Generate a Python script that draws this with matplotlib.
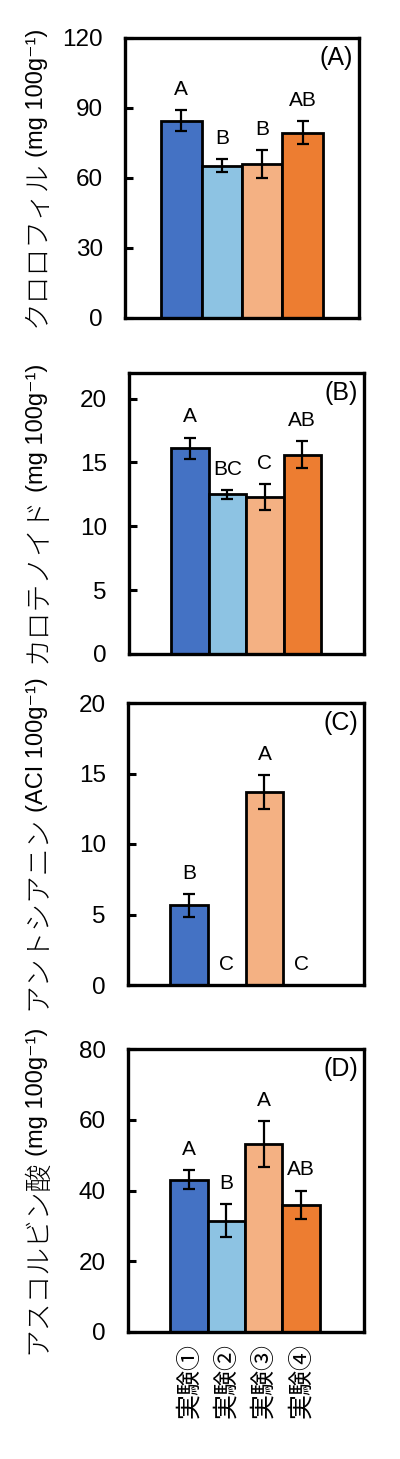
import matplotlib
matplotlib.use('Agg')
import matplotlib.pyplot as plt
import numpy as np

plt.rcParams['font.family'] = ['Liberation Sans', 'Noto Sans CJK JP', 'DejaVu Sans']

# ---------------- data ----------------
categories = ['実験①', '実験②', '実験③', '実験④']
bar_colors = ['#4472C4', '#8DC3E3', '#F4B183', '#ED7D31']

chl_mean = [84.5, 65.3, 66.0, 79.5]
chl_err = [4.5, 2.7, 5.8, 5.0]
chl_letters = ['A', 'B', 'B', 'AB']

car_mean = [16.1, 12.5, 12.3, 15.6]
car_err = [0.85, 0.35, 1.0, 1.05]
car_letters = ['A', 'BC', 'C', 'AB']

ant_mean = [5.65, 0.0, 13.7, 0.0]
ant_err = [0.8, 0.0, 1.2, 0.0]
ant_letters = ['B', 'C', 'A', 'C']

asc_mean = [43.1, 31.5, 53.2, 36.0]
asc_err = [2.7, 4.7, 6.5, 4.0]
asc_letters = ['A', 'B', 'A', 'AB']

ylabel_jp = ['クロロフィル', 'カロテノイド', 'アントシアニン', 'アスコルビン酸']
ylabel_unit = ['(mg 100g⁻¹)', '(mg 100g⁻¹)', '(ACI 100g⁻¹)', '(mg 100g⁻¹)']
panel_tags = ['(A)', '(B)', '(C)', '(D)']
ylims = [(0, 120), (0, 22), (0, 20), (0, 80)]
yticks = [[0, 30, 60, 90, 120], [0, 5, 10, 15, 20], [0, 5, 10, 15, 20], [0, 20, 40, 60, 80]]

means = [chl_mean, car_mean, ant_mean, asc_mean]
errs = [chl_err, car_err, ant_err, asc_err]
letters = [chl_letters, car_letters, ant_letters, asc_letters]

# ---------------- layout (pixels) ----------------
W, H = 400, 1459
boxes = [(125, 359, 38, 318), (129, 364, 373, 654), (128, 364, 703, 985), (128, 364, 1049, 1332)]
xlims = [(-1.39, 4.39), (-1.63, 4.65), (-1.63, 4.65), (-1.63, 4.68)]

fig = plt.figure(figsize=(W / 100, H / 100), dpi=100)
x = np.arange(len(categories))

axes = []
label_texts = []
for i in range(4):
    l, r, t, b = boxes[i]
    ax = fig.add_axes([l / W, 1 - b / H, (r - l) / W, (b - t) / H])
    axes.append(ax)
    m = np.array(means[i])
    e = np.array(errs[i])
    ax.bar(x, m, width=1.0, color=bar_colors, edgecolor='black', linewidth=2.0, zorder=2)
    mask = m > 0
    ax.errorbar(x[mask], m[mask], yerr=e[mask], fmt='none', ecolor='black',
                elinewidth=1.6, capsize=4.5, capthick=1.6, zorder=3)
    for xi, mi, ei, lt in zip(x, m, e, letters[i]):
        ax.annotate(lt, (xi, mi + ei), xytext=(0, 8), textcoords='offset points',
                    ha='center', va='bottom', fontsize=15)
    ax.set_ylim(*ylims[i])
    ax.set_yticks(yticks[i])
    ax.set_xlim(*xlims[i])
    ax.tick_params(axis='y', direction='in', length=6, width=2.2, labelsize=17.5, pad=16)
    for s in ax.spines.values():
        s.set_linewidth(2.4)
    ax.text(0.975, 0.93, panel_tags[i], transform=ax.transAxes, ha='right', va='center', fontsize=18)
    if i == 3:
        ax.set_xticks(x)
        ax.set_xticklabels(categories, rotation=90, fontsize=18, family=['Noto Sans CJK JP'])
        ax.tick_params(axis='x', length=0, pad=8)
    else:
        ax.set_xticks([])
    t1 = fig.text(0, 0, ylabel_jp[i], rotation=90, fontsize=20, family=['Noto Sans CJK JP'],
                  fontweight='light', ha='center', va='bottom')
    t2 = fig.text(0, 0, ylabel_unit[i], rotation=90, fontsize=17,
                  family=['Liberation Sans', 'DejaVu Sans'], ha='center', va='bottom')
    label_texts.append((t1, t2, (t + b) / 2))

fig.canvas.draw()
renderer = fig.canvas.get_renderer()
gap = 4
for t1, t2, cy in label_texts:
    h1 = t1.get_window_extent(renderer).height
    h2 = t2.get_window_extent(renderer).height
    total = h1 + gap + h2
    center = H - cy
    y0 = center - total / 2
    t1.set_position((37 / W, y0 / H))
    t2.set_position((37 / W, (y0 + h1 + gap) / H))

fig.savefig('out.png', dpi=100)
